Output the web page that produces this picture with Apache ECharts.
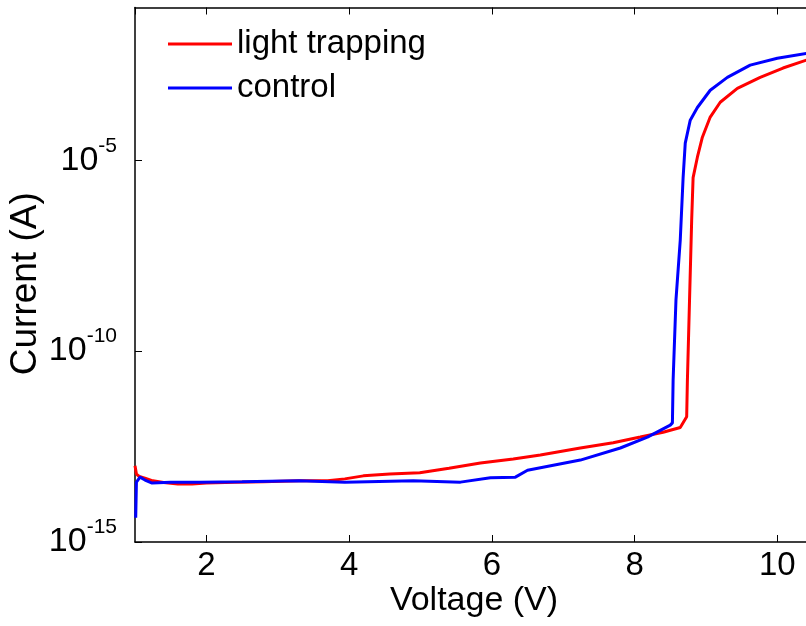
<!DOCTYPE html>
<html>
<head>
<meta charset="utf-8">
<script src="https://cdn.jsdelivr.net/npm/echarts@6/dist/echarts.min.js"></script>
<style>html,body{margin:0;padding:0;background:#fff}#chart{width:806px;height:626px}</style>
</head>
<body>
<div id="chart"></div>
<script>
const seriesNames = ['light trapping', 'control'];
const voltageLT = [1.00,1.02,1.06,1.15,1.25,1.40,1.60,1.80,2.00,2.40,2.80,3.30,3.70,3.94,4.20,4.57,4.99,5.40,5.84,6.30,6.68,7.24,7.70,8.08,8.40,8.64,8.73,8.74,8.77,8.80,8.82,8.88,8.95,9.06,9.20,9.44,9.76,10.08,10.41,10.50];
const currentLT = [1.0e-13,6.0e-14,5.2e-14,4.6e-14,4.0e-14,3.6e-14,3.3e-14,3.3e-14,3.5e-14,3.7e-14,3.8e-14,4.0e-14,4.0e-14,4.5e-14,5.4e-14,6.0e-14,6.5e-14,8.5e-14,1.17e-13,1.5e-13,1.9e-13,2.9e-13,4.0e-13,5.6e-13,7.5e-13,1.0e-12,1.9e-12,1.7e-11,2.2e-9,2.7e-7,3.5e-6,1.2e-5,4.0e-5,1.35e-4,3.3e-4,7.6e-4,1.48e-3,2.6e-3,4.2e-3,4.5e-3];
const voltageCtrl = [1.01,1.02,1.07,1.14,1.24,1.50,1.90,2.50,3.30,3.94,4.90,5.56,5.98,6.33,6.50,7.24,7.80,8.18,8.50,8.53,8.54,8.58,8.64,8.68,8.71,8.78,8.88,9.06,9.30,9.62,10.00,10.41,10.50];
const currentCtrl = [4.3e-15,3.7e-14,5.0e-14,4.2e-14,3.5e-14,3.7e-14,3.7e-14,3.8e-14,4.0e-14,3.7e-14,4.0e-14,3.7e-14,4.8e-14,5.0e-14,7.6e-14,1.4e-13,2.9e-13,5.6e-13,1.15e-12,1.32e-12,1.74e-11,2.2e-9,8.1e-8,3.5e-6,2.8e-5,1.12e-4,2.4e-4,6.8e-4,1.48e-3,3.1e-3,4.7e-3,6.3e-3,6.6e-3];
const xLimits = [1, 10.5];
const yLimits = [1e-15, 1e-1];
const xTitle = 'Voltage (V)';
const yTitle = 'Current (A)';

const FONT = "'Liberation Sans', Arial, sans-serif";
const chart = echarts.init(document.getElementById('chart'), null, {renderer: 'canvas'});
const pair = (xs, ys) => xs.map((x, i) => [x, ys[i]]);
const expLabel = v => {
  const e = Math.round(Math.log10(v));
  return '{b|10}{s|' + e + '}';
};
const tickStyle = {show: true, inside: true, length: 7, lineStyle: {color: '#000', width: 1}};
chart.setOption({
  animation: false,
  backgroundColor: '#fff',
  grid: {left: 135, right: -7, top: 7.5, bottom: 84, containLabel: false, outerBoundsMode: 'none'},
  legend: {
    orient: 'vertical', left: 168, top: 22, padding: 0, itemGap: 0,
    itemWidth: 64, itemHeight: 3, icon: 'rect',
    data: seriesNames,
    textStyle: {fontFamily: FONT, fontSize: 33, color: '#000', lineHeight: 44}
  },
  xAxis: [{
    type: 'value', min: xLimits[0], max: xLimits[1], splitNumber: 5,
    name: xTitle, nameLocation: 'middle', nameGap: 42, nameMoveOverlap: false,
    nameTextStyle: {fontFamily: FONT, fontSize: 34, color: '#000'},
    axisLine: {show: true, lineStyle: {color: '#000', width: 1.5}},
    axisTick: tickStyle,
    axisLabel: {fontFamily: FONT, fontSize: 33, color: '#000', margin: 7, showMinLabel: false, showMaxLabel: false},
    splitLine: {show: false}
  }, {
    type: 'value', position: 'top', min: xLimits[0], max: xLimits[1], splitNumber: 5,
    axisLine: {show: true, onZero: false, lineStyle: {color: '#000', width: 1.5}},
    axisTick: tickStyle, axisLabel: {show: false}, splitLine: {show: false}
  }],
  yAxis: [{
    type: 'log', logBase: 10, min: yLimits[0], max: yLimits[1], interval: 5,
    name: yTitle, nameLocation: 'middle', nameGap: 91, nameRotate: 90, nameMoveOverlap: false,
    nameTextStyle: {fontFamily: FONT, fontSize: 37, color: '#000', padding: [0, 18, 0, 0]},
    axisLine: {show: true, lineStyle: {color: '#000', width: 1.5}},
    axisTick: tickStyle,
    axisLabel: {
      margin: 18, color: '#000', formatter: expLabel, showMaxLabel: false,
      rich: {
        b: {fontFamily: FONT, fontSize: 34, color: '#000', lineHeight: 50},
        s: {fontFamily: FONT, fontSize: 21, color: '#000', lineHeight: 21, verticalAlign: 'top'}
      }
    },
    splitLine: {show: false}, minorTick: {show: false}
  }, {
    type: 'log', logBase: 10, position: 'right', min: yLimits[0], max: yLimits[1], interval: 5,
    axisLine: {show: true, lineStyle: {color: '#000', width: 1.5}},
    axisTick: tickStyle, axisLabel: {show: false}, splitLine: {show: false}
  }],
  series: [{
    name: seriesNames[0], type: 'line', showSymbol: false, symbol: 'none',
    data: pair(voltageLT, currentLT),
    lineStyle: {color: '#ff0000', width: 3}, itemStyle: {color: '#ff0000'}
  }, {
    name: seriesNames[1], type: 'line', showSymbol: false, symbol: 'none',
    data: pair(voltageCtrl, currentCtrl),
    lineStyle: {color: '#0000ff', width: 3}, itemStyle: {color: '#0000ff'}
  }]
});
</script>
</body>
</html>
